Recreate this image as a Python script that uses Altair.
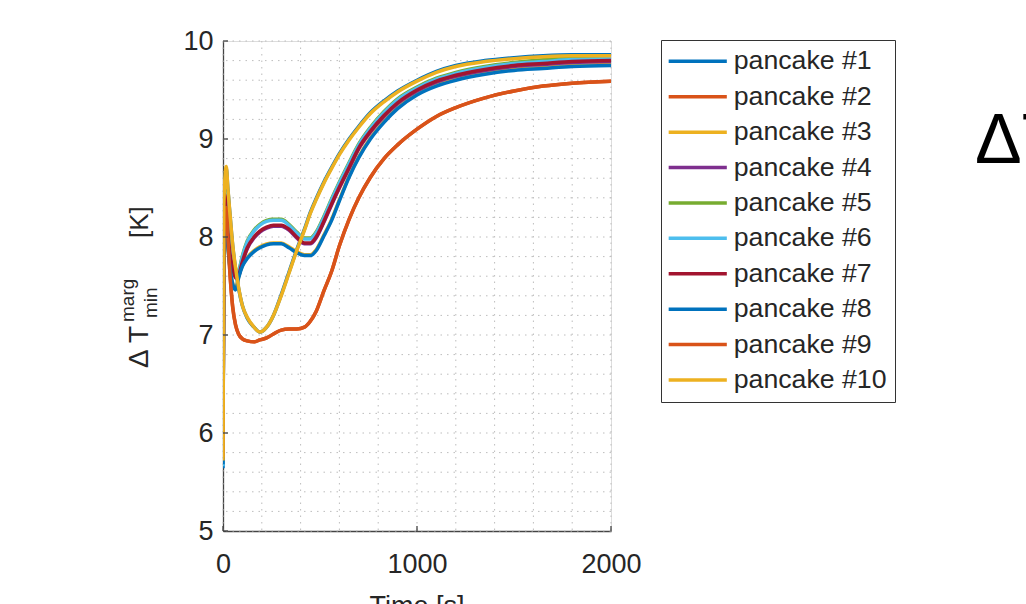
import altair as alt
import pandas as pd

# ---------------- data ----------------
T = [0, 4, 10, 17, 25, 35, 50, 65, 80, 100, 125, 160, 190, 225, 260, 300, 340, 380,
     420, 450, 480, 520, 560, 600, 650, 700, 760, 830, 900, 1000, 1100, 1200, 1350,
     1500, 1650, 1800, 2000]

P1 = [5.64, 8.25, 8.58, 8.70, 8.49, 8.25, 7.91, 7.67, 7.48, 7.30, 7.17, 7.08, 7.03, 7.08, 7.20, 7.41, 7.64, 7.87,
      8.08, 8.25, 8.39, 8.56, 8.71, 8.85, 9.00, 9.13, 9.27, 9.39, 9.49, 9.60, 9.69, 9.75, 9.80, 9.83, 9.85, 9.86, 9.86]
P2 = [5.78, 8.02, 8.26, 8.30, 8.01, 7.66, 7.29, 7.10, 7.01, 6.96, 6.94, 6.93, 6.95, 6.97, 7.01, 7.05, 7.06, 7.06,
      7.08, 7.14, 7.24, 7.45, 7.65, 7.91, 8.18, 8.40, 8.61, 8.80, 8.94, 9.10, 9.23, 9.32, 9.42, 9.49, 9.54, 9.57, 9.59]
P3 = [5.70, 8.22, 8.31, 8.11, 7.91, 7.71, 7.53, 7.47, 7.59, 7.71, 7.79, 7.86, 7.90, 7.93, 7.94, 7.94, 7.90, 7.85,
      7.82, 7.82, 7.87, 8.02, 8.18, 8.38, 8.62, 8.82, 9.01, 9.18, 9.32, 9.46, 9.55, 9.61, 9.67, 9.71, 9.73, 9.75, 9.76]
P4 = [5.74, 8.36, 8.42, 8.23, 8.03, 7.83, 7.68, 7.58, 7.60, 7.74, 7.88, 7.99, 8.05, 8.09, 8.11, 8.11, 8.07, 7.99,
      7.93, 7.93, 7.99, 8.15, 8.33, 8.50, 8.70, 8.90, 9.07, 9.23, 9.36, 9.49, 9.58, 9.64, 9.70, 9.74, 9.76, 9.78, 9.79]
P5 = [5.70, 8.40, 8.46, 8.27, 8.07, 7.87, 7.72, 7.62, 7.65, 7.81, 7.96, 8.07, 8.13, 8.17, 8.18, 8.18, 8.13, 8.05,
      7.99, 7.99, 8.05, 8.21, 8.39, 8.56, 8.76, 8.95, 9.12, 9.28, 9.41, 9.53, 9.62, 9.68, 9.74, 9.78, 9.81, 9.83, 9.84]
P6 = [5.66, 8.38, 8.45, 8.26, 8.06, 7.86, 7.71, 7.61, 7.64, 7.80, 7.95, 8.06, 8.12, 8.16, 8.17, 8.17, 8.12, 8.04,
      7.98, 7.98, 8.04, 8.20, 8.38, 8.55, 8.75, 8.94, 9.11, 9.27, 9.40, 9.52, 9.61, 9.67, 9.73, 9.77, 9.79, 9.81, 9.82]
P7 = [5.72, 8.37, 8.43, 8.24, 8.04, 7.84, 7.69, 7.59, 7.61, 7.75, 7.89, 8.00, 8.06, 8.10, 8.12, 8.12, 8.08, 8.00,
      7.94, 7.94, 8.00, 8.16, 8.34, 8.51, 8.71, 8.91, 9.08, 9.24, 9.37, 9.50, 9.59, 9.65, 9.71, 9.75, 9.77, 9.79, 9.80]
P8 = [5.68, 8.20, 8.30, 8.10, 7.90, 7.70, 7.52, 7.46, 7.58, 7.70, 7.78, 7.85, 7.89, 7.92, 7.93, 7.93, 7.89, 7.84,
      7.81, 7.81, 7.86, 8.01, 8.17, 8.37, 8.61, 8.81, 9.00, 9.17, 9.31, 9.45, 9.54, 9.60, 9.66, 9.70, 9.72, 9.74, 9.75]
P9 = [5.75, 8.00, 8.25, 8.30, 8.00, 7.65, 7.28, 7.10, 7.01, 6.96, 6.94, 6.93, 6.95, 6.97, 7.01, 7.05, 7.06, 7.06,
      7.08, 7.14, 7.24, 7.45, 7.65, 7.91, 8.18, 8.40, 8.61, 8.80, 8.94, 9.10, 9.23, 9.32, 9.42, 9.49, 9.54, 9.57, 9.59]
P10 = [5.72, 8.30, 8.60, 8.72, 8.50, 8.26, 7.92, 7.68, 7.49, 7.30, 7.18, 7.08, 7.03, 7.08, 7.20, 7.40, 7.63, 7.86,
       8.07, 8.24, 8.38, 8.55, 8.70, 8.84, 8.99, 9.12, 9.26, 9.38, 9.48, 9.59, 9.68, 9.74, 9.79, 9.82, 9.84, 9.85, 9.85]

SERIES = [P1, P2, P3, P4, P5, P6, P7, P8, P9, P10]
NAMES = ["pancake #%d" % (i + 1) for i in range(10)]
COLORS = ["#0072BD", "#D95319", "#EDB120", "#7E2F8E", "#77AC30",
          "#4DBEEE", "#A2142F", "#0072BD", "#D95319", "#EDB120"]

X_GRID = list(range(0, 2001, 200))
Y_GRID = [round(5 + 0.2 * i, 1) for i in range(26)]
X_MAJOR = [0, 1000, 2000]
Y_MAJOR = [5, 6, 7, 8, 9, 10]

rows = []
for k, (name, vals) in enumerate(zip(NAMES, SERIES)):
    for t, v in zip(T, vals):
        rows.append({"t": t, "v": v, "pancake": name, "order": k})
df = pd.DataFrame(rows)

FONT = "Liberation Sans"
TXT = "#262626"
GRID_COLOR = "#bdbdbd"

xscale = alt.Scale(domain=[0, 2000], nice=False, zero=False)
yscale = alt.Scale(domain=[5, 10], nice=False, zero=False)

AX = alt.Axis(values=X_MAJOR, title=None, ticks=False, grid=False, format="d",
              labelFontSize=27, labelFont=FONT, labelColor=TXT,
              labelPadding=20, labelFlush=False, labelOverlap=False,
              domainColor="#444", domainWidth=1.3)
AY = alt.Axis(values=Y_MAJOR, title=None, ticks=False, grid=False, format="d",
              labelFontSize=27, labelFont=FONT, labelColor=TXT,
              labelPadding=10, labelFlush=False, labelOverlap=False,
              domainColor="#444", domainWidth=1.3)

xgrid = alt.Chart(pd.DataFrame({"t": X_GRID})).mark_rule(
    color=GRID_COLOR, strokeWidth=1, strokeDash=[1.5, 5]).encode(
    x=alt.X("t:Q", scale=xscale, axis=AX))
ygrid = alt.Chart(pd.DataFrame({"v": Y_GRID})).mark_rule(
    color=GRID_COLOR, strokeWidth=1, strokeDash=[1.5, 5]).encode(
    y=alt.Y("v:Q", scale=yscale, axis=AY))

lines = alt.Chart(df).mark_line(strokeWidth=3.5, interpolate="monotone", clip=True).encode(
    x=alt.X("t:Q", scale=xscale, axis=AX),
    y=alt.Y("v:Q", scale=yscale, axis=AY),
    color=alt.Color("pancake:N", scale=alt.Scale(domain=NAMES, range=COLORS),
                    legend=alt.Legend(orient="none", legendX=438, legendY=-1, title=None,
                                      symbolType="M-2.4,0H7.8", symbolSize=130,
                                      symbolStrokeWidth=3.5, labelFontSize=26.7,
                                      labelFont=FONT, labelColor=TXT, labelLimit=400,
                                      labelOffset=38, rowPadding=7.4, padding=8,
                                      strokeColor="#333", fillColor="white")),
    detail="order:O",
    order="order:O",
)

yt = alt.Chart(pd.DataFrame({"v": Y_MAJOR})).mark_rule(color="#444", strokeWidth=1.3).encode(
    y=alt.Y("v:Q", scale=yscale, axis=AY), x=alt.value(0), x2=alt.value(5))
xt = alt.Chart(pd.DataFrame({"t": X_MAJOR})).mark_rule(color="#444", strokeWidth=1.3).encode(
    x=alt.X("t:Q", scale=xscale, axis=AX), y=alt.value(490), y2=alt.value(485))

# y-axis title pieces (Delta T ^marg _min [K])
def ytxt(s, x, y, size):
    return alt.Chart(pd.DataFrame({"s": [s]})).mark_text(
        angle=270, align="left", baseline="alphabetic", font=FONT, fontSize=size, color=TXT
    ).encode(text="s:N", x=alt.value(x), y=alt.value(y))

ylab = (ytxt("\u0394 T", -75, 327, 28) + ytxt("marg", -89, 281, 19) +
        ytxt("min", -66, 277, 19) + ytxt("[K]", -75, 197, 26))

xlab = alt.Chart(pd.DataFrame({"s": ["Time [s]"]})).mark_text(
    align="center", baseline="alphabetic", font=FONT, fontSize=27, color=TXT
).encode(text="s:N", x=alt.value(194), y=alt.value(574))

side = alt.Chart(pd.DataFrame({"s": ["\u0394T"]})).mark_text(
    align="left", baseline="alphabetic", font=FONT, fontSize=70, color="#000"
).encode(text="s:N", x=alt.value(752), y=alt.value(122))

chart = alt.layer(xgrid, ygrid, lines, yt, xt, ylab, xlab, side).properties(
    width=388, height=490,
    padding={"left": 223, "top": 41, "right": 415, "bottom": 73},
    autosize=alt.AutoSizeParams(type="none"),
).configure_view(stroke=None).configure(background="white")

chart.save("out.html", embed_options={"renderer": "svg", "actions": False})
